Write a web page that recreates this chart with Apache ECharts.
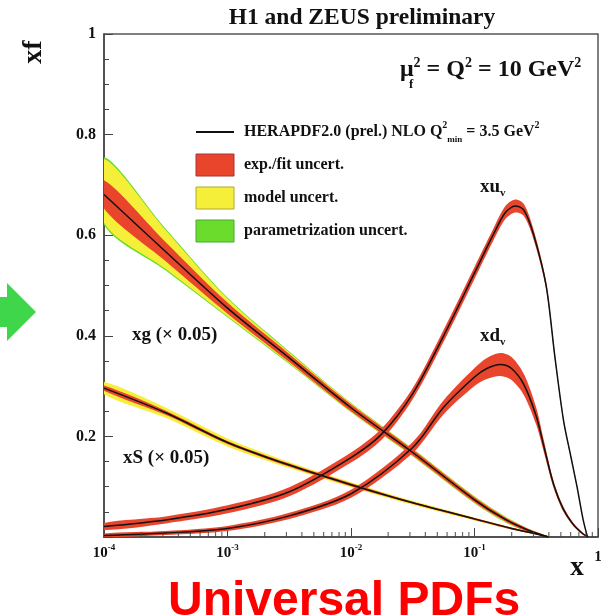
<!DOCTYPE html>
<html>
<head>
<meta charset="utf-8">
<script src="https://cdn.jsdelivr.net/npm/echarts@6/dist/echarts.min.js"></script>
<style>
html, body { margin: 0; padding: 0; background: #fff; }
#main { width: 607px; height: 616px; }
</style>
</head>
<body>
<div id="main"></div>
<script>
// x positions are stored as log10(x)
var xgLogX    = [-4, -3.5, -3, -2.5, -2, -1.5, -1, -0.75, -0.55, -0.4];
var xgMid     = [0.681, 0.567, 0.455, 0.356, 0.257, 0.168, 0.074, 0.035, 0.012, 0.0];
var xgExp     = [0.028, 0.019, 0.011, 0.008, 0.007, 0.006, 0.005, 0.004, 0.003, 0.001];
var xgModelUp = [0.070, 0.043, 0.019, 0.011, 0.009, 0.007, 0.006, 0.005, 0.003, 0.001];
var xgModelDn = [0.056, 0.034, 0.016, 0.010, 0.008, 0.007, 0.006, 0.005, 0.003, 0.001];
var xgParam   = [0.004, 0.003, 0.002, 0.002, 0.001, 0.001, 0.001, 0.001, 0.0, 0.0];

var xsLogX  = [-4, -3.5, -3, -2.5, -2, -1.5, -1, -0.7, -0.5, -0.4];
var xsMid   = [0.296, 0.247, 0.188, 0.143, 0.104, 0.068, 0.036, 0.017, 0.006, 0.0];
var xsExp   = [0.005, 0.004, 0.003, 0.003, 0.003, 0.002, 0.002, 0.002, 0.001, 0.001];
var xsModel = [0.012, 0.010, 0.008, 0.006, 0.005, 0.004, 0.003, 0.002, 0.001, 0.001];

var xuLogX = [-4, -3.5, -3, -2.5, -2, -1.75, -1.5, -1.25, -1, -0.85, -0.75, -0.67, -0.6, -0.52, -0.42, -0.35, -0.28, -0.22, -0.17, -0.12, -0.085];
var xuMid  = [0.021, 0.034, 0.055, 0.09, 0.158, 0.205, 0.285, 0.40, 0.525, 0.60, 0.645, 0.658, 0.65, 0.60, 0.50, 0.36, 0.233, 0.16, 0.10, 0.034, 0.0];
var xuExp  = [0.007, 0.007, 0.008, 0.009, 0.010, 0.011, 0.011, 0.012, 0.012, 0.012, 0.013, 0.013, 0.012, 0.010, 0.007, 0.005, 0.003, 0.002, 0.002, 0.001, 0.001];

var xdLogX = [-4, -3.5, -3, -2.5, -2, -1.5, -1.25, -1, -0.9, -0.79, -0.7, -0.6, -0.5, -0.44, -0.36, -0.28, -0.2, -0.12, -0.08];
var xdMid  = [0.003, 0.008, 0.017, 0.042, 0.086, 0.178, 0.258, 0.318, 0.335, 0.343, 0.335, 0.303, 0.24, 0.182, 0.105, 0.055, 0.025, 0.006, 0.0];
var xdExp  = [0.004, 0.004, 0.005, 0.006, 0.008, 0.011, 0.014, 0.018, 0.021, 0.023, 0.023, 0.021, 0.017, 0.012, 0.007, 0.005, 0.003, 0.002, 0.001];

var yTickLabels = ['0.2', '0.4', '0.6', '0.8', '1'];

var serif = "'Liberation Serif', 'DejaVu Serif', serif";
var red = '#e8452c', yellow = '#f6ef3a', green = '#6cdc2c';

function pts(logX, vals) {
    return logX.map(function (lx, i) { return [Math.pow(10, lx), vals[i]]; });
}
function shift(mid, a, b, sign) {
    return mid.map(function (v, i) { return Math.max(0, v + sign * (a[i] + (b ? b[i] : 0))); });
}

// one filled polygon between lower and upper edge, placed through the axes
function band(name, logX, lower, upper, color, z) {
    var data = logX.map(function (lx, i) { return [Math.pow(10, lx), lower[i], upper[i]]; });
    return {
        name: name, type: 'custom', data: data, z: z, silent: true, clip: true,
        encode: { x: 0, y: [1, 2] },
        itemStyle: { color: color },
        renderItem: function (params, api) {
            if (params.dataIndex !== 0) return;
            var top = [], bot = [];
            for (var i = 0; i < data.length; i++) {
                top.push(api.coord([data[i][0], data[i][2]]));
                bot.push(api.coord([data[i][0], data[i][1]]));
            }
            return {
                type: 'polygon',
                shape: { points: top.concat(bot.reverse()), smooth: 0.3 },
                style: { fill: color }
            };
        }
    };
}
function central(logX, mid) {
    return { name: 'central', type: 'line', data: pts(logX, mid), symbol: 'none', smooth: 0.3,
             lineStyle: { color: '#111', width: 1.5 }, itemStyle: { color: '#444' }, silent: true, z: 5 };
}

var minorX = [];
for (var d = -4; d < 0; d++) {
    for (var m = 2; m < 10; m++) minorX.push([m * Math.pow(10, d), 0]);
}

var series = [
    band('param', xgLogX, shift(xgMid, xgModelDn, xgParam, -1), shift(xgMid, xgModelUp, xgParam, 1), green, 1),
    band('model', xgLogX, shift(xgMid, xgModelDn, null, -1), shift(xgMid, xgModelUp, null, 1), yellow, 2),
    band('exp', xgLogX, shift(xgMid, xgExp, null, -1), shift(xgMid, xgExp, null, 1), red, 3),
    band('model', xsLogX, shift(xsMid, xsModel, null, -1), shift(xsMid, xsModel, null, 1), yellow, 2),
    band('exp', xsLogX, shift(xsMid, xsExp, null, -1), shift(xsMid, xsExp, null, 1), red, 3),
    band('exp', xuLogX, shift(xuMid, xuExp, null, -1), shift(xuMid, xuExp, null, 1), red, 3),
    band('exp', xdLogX, shift(xdMid, xdExp, null, -1), shift(xdMid, xdExp, null, 1), red, 3),
    central(xgLogX, xgMid), central(xsLogX, xsMid), central(xuLogX, xuMid), central(xdLogX, xdMid),
    { name: 'minor', type: 'scatter', data: minorX, symbol: 'rect', symbolSize: [1.2, 5],
      symbolOffset: [0, -2.5], itemStyle: { color: '#444' }, silent: true, clip: false, z: 6 }
];

var legendText = {
    central: 'HERAPDF2.0 (prel.) NLO Q{p|2}{s|min} = 3.5 GeV{p|2}',
    exp: 'exp./fit uncert.',
    model: 'model uncert.',
    param: 'parametrization uncert.'
};

var bold = function (size) { return { fontFamily: serif, fontWeight: 'bold', fontSize: size, fill: '#111' }; };

var myChart = echarts.init(document.getElementById('main'));

var option = {
    animation: false,
    grid: { left: 104, right: 9, top: 34, bottom: 79, show: true, borderColor: '#555', borderWidth: 1.5 },
    xAxis: {
        type: 'log', logBase: 10, min: 1e-4, max: 1,
        splitLine: { show: false },
        axisLine: { lineStyle: { color: '#444', width: 1.5 } },
        axisTick: { inside: true, length: 9, lineStyle: { color: '#444' } },
        axisLabel: {
            margin: 6,
            formatter: function (v) {
                var e = Math.round(Math.log10(v));
                return e === 0 ? '{o|1}' : '{b|10}{e|' + e + '}';
            },
            rich: {
                b: { fontFamily: serif, fontWeight: 'bold', fontSize: 15, lineHeight: 20, color: '#111' },
                e: { fontFamily: serif, fontWeight: 'bold', fontSize: 9, lineHeight: 9, verticalAlign: 'top', color: '#111' },
                o: { fontFamily: serif, fontWeight: 'bold', fontSize: 15, lineHeight: 20, padding: [8, 0, 0, 0], color: '#111' }
            }
        }
    },
    yAxis: {
        type: 'value', min: 0, max: 1, interval: 0.2,
        splitLine: { show: false },
        axisLine: { show: true, lineStyle: { color: '#444', width: 1.5 } },
        axisTick: { show: true, inside: true, length: 9, lineStyle: { color: '#444' } },
        minorTick: { show: true, splitNumber: 4, length: 5, lineStyle: { color: '#444' } },
        axisLabel: {
            margin: 8, fontFamily: serif, fontWeight: 'bold', fontSize: 16, color: '#111',
            formatter: function (v) {
                var i = Math.round(v / 0.2) - 1;
                return i < 0 ? '' : yTickLabels[i];
            }
        }
    },
    legend: {
        left: 190, top: 115, orient: 'vertical',
        itemWidth: 38, itemHeight: 22, itemGap: 9,
        selectedMode: false,
        data: [
            { name: 'central', itemStyle: { opacity: 0 } },
            { name: 'exp', icon: 'rect', itemStyle: { color: red, borderColor: '#a33', borderWidth: 1 } },
            { name: 'model', icon: 'rect', itemStyle: { color: yellow, borderColor: '#aa3', borderWidth: 1 } },
            { name: 'param', icon: 'rect', itemStyle: { color: green, borderColor: '#4a3', borderWidth: 1 } }
        ],
        formatter: function (name) { return legendText[name]; },
        textStyle: {
            fontFamily: serif, fontWeight: 'bold', fontSize: 16, color: '#111', lineHeight: 24,
            padding: [0, 0, 0, 5],
            rich: {
                p: { fontFamily: serif, fontWeight: 'bold', fontSize: 10, lineHeight: 10, verticalAlign: 'top', color: '#111' },
                s: { fontFamily: serif, fontWeight: 'bold', fontSize: 9, lineHeight: 9, verticalAlign: 'bottom', color: '#111' }
            }
        }
    },
    graphic: [
        { type: 'polygon', shape: { points: [[0, 297], [7, 297], [7, 283], [36, 312], [7, 341], [7, 327], [0, 327]] },
          style: { fill: '#3fd64b' } },
        { type: 'text', x: 362, y: 18, style: Object.assign(bold(23.5), { text: 'H1 and ZEUS preliminary', align: 'center', verticalAlign: 'middle' }) },
        { type: 'text', x: 400, y: 70, style: {
            text: '{m|μ}{p|2}{m| = Q}{p|2}{m| = 10 GeV}{p|2}', verticalAlign: 'middle',
            rich: {
                m: Object.assign(bold(24), { lineHeight: 28 }),
                p: Object.assign(bold(14), { lineHeight: 14, verticalAlign: 'top' })
            } } },
        { type: 'text', x: 409, y: 85, style: Object.assign(bold(13), { text: 'f', verticalAlign: 'middle' }) },
        { type: 'text', x: 480, y: 187, style: {
            text: '{a|xu}{b|v}', verticalAlign: 'middle',
            rich: { a: Object.assign(bold(19), { lineHeight: 24 }), b: Object.assign(bold(11), { lineHeight: 11, verticalAlign: 'bottom' }) } } },
        { type: 'text', x: 480, y: 336, style: {
            text: '{a|xd}{b|v}', verticalAlign: 'middle',
            rich: { a: Object.assign(bold(19), { lineHeight: 24 }), b: Object.assign(bold(11), { lineHeight: 11, verticalAlign: 'bottom' }) } } },
        { type: 'text', x: 132, y: 335, style: Object.assign(bold(19), { text: 'xg (× 0.05)', verticalAlign: 'middle' }) },
        { type: 'text', x: 123, y: 458, style: Object.assign(bold(19), { text: 'xS (× 0.05)', verticalAlign: 'middle' }) },
        { type: 'text', x: 34, y: 52, rotation: Math.PI / 2, style: Object.assign(bold(28), { text: 'xf', align: 'center', verticalAlign: 'middle' }) },
        { type: 'text', x: 577, y: 568, style: Object.assign(bold(27), { text: 'x', align: 'center', verticalAlign: 'middle' }) },
        { type: 'text', x: 168, y: 602, style: {
            text: 'Universal PDFs', fontFamily: "'Liberation Sans', Arial, sans-serif", fontWeight: 'bold',
            fontSize: 48, fill: '#ff0000', verticalAlign: 'middle' } }
    ],
    series: series
};

myChart.setOption(option);
</script>
</body>
</html>
